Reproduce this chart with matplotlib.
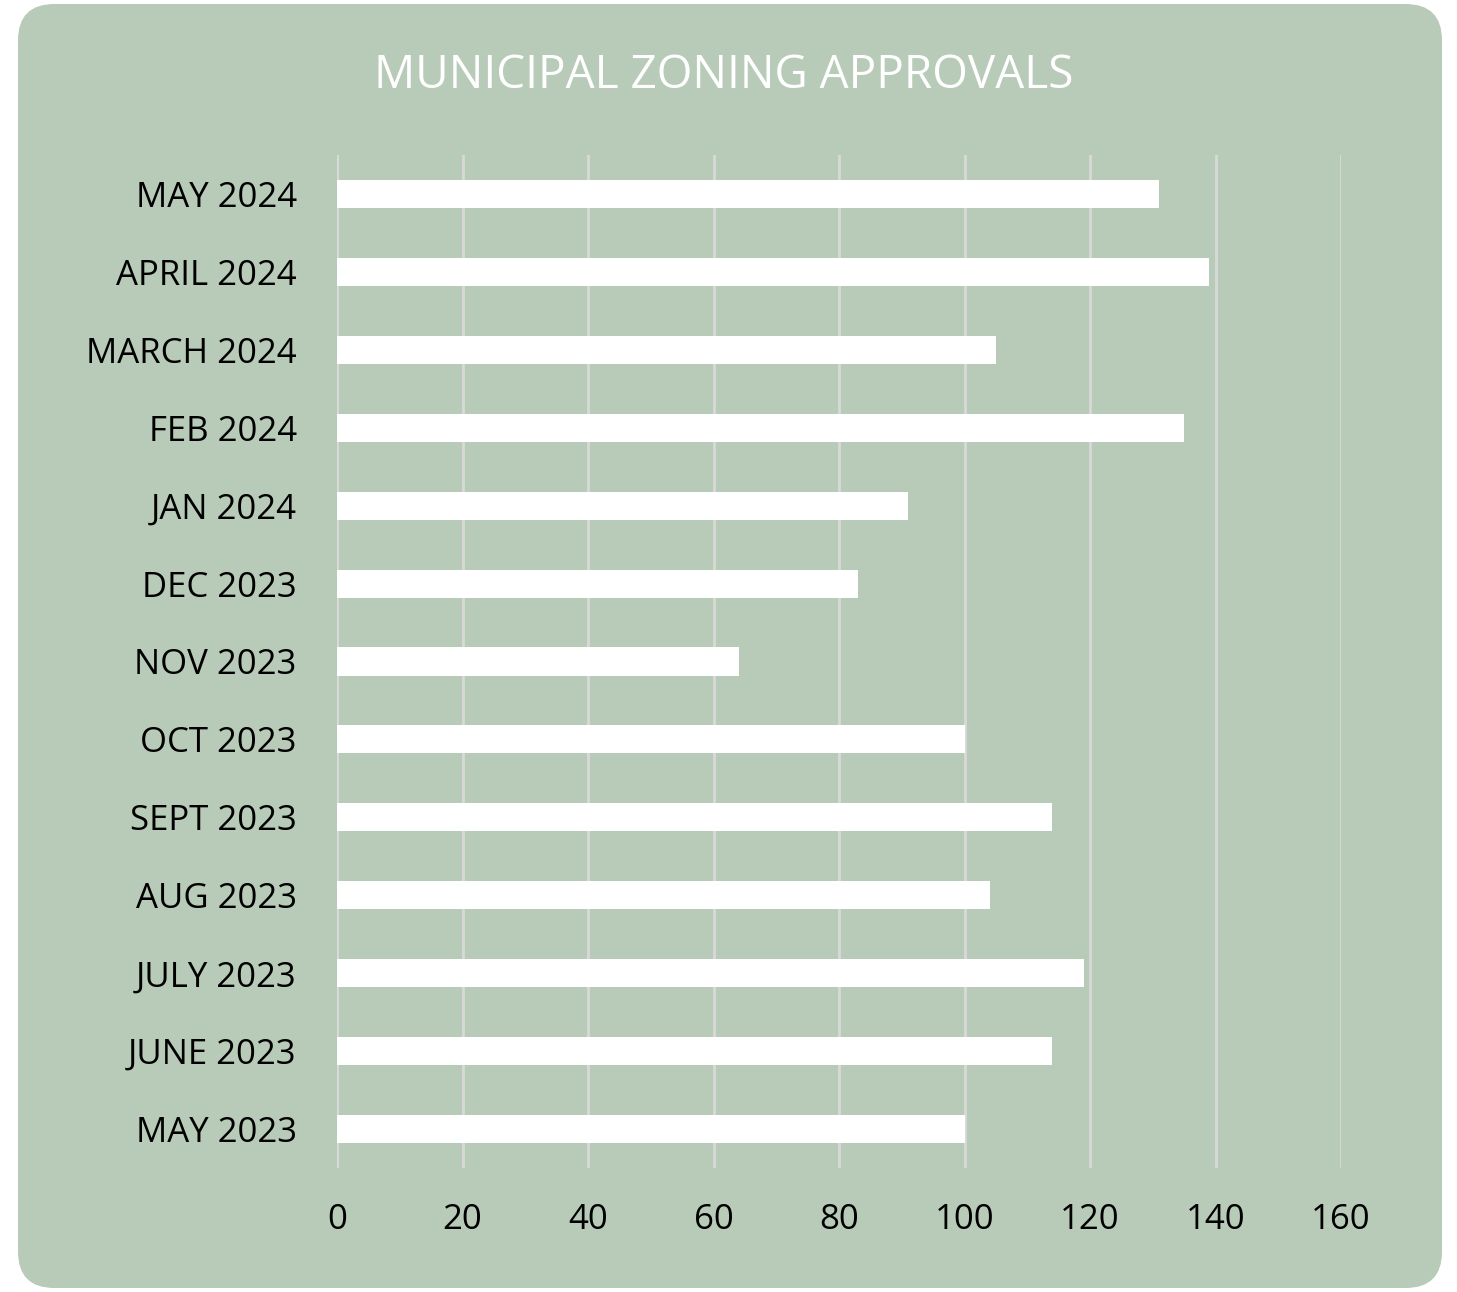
import matplotlib
matplotlib.use("Agg")
import matplotlib.pyplot as plt
from matplotlib.patches import FancyBboxPatch

categories = ["MAY 2023", "JUNE 2023", "JULY 2023", "AUG 2023", "SEPT 2023", "OCT 2023",
              "NOV 2023", "DEC 2023", "JAN 2024", "FEB 2024", "MARCH 2024", "APRIL 2024", "MAY 2024"]
values = [100, 114, 119, 104, 114, 100, 64, 83, 91, 135, 105, 139, 131]
xticks = [0, 20, 40, 60, 80, 100, 120, 140, 160]

W, H = 1457, 1292
fig = plt.figure(figsize=(W / 100, H / 100), dpi=100)
fig.patch.set_facecolor("white")

panel_color = "#B8CAB8"
panel = FancyBboxPatch((18 / W, 4 / H), (1442 - 18) / W, (1288 - 4) / H,
                       boxstyle="round,pad=0,rounding_size=0.025",
                       transform=fig.transFigure, facecolor=panel_color,
                       edgecolor="none", mutation_aspect=W / H, zorder=-5)
fig.patches.append(panel)

ax = fig.add_axes([337 / W, 1 - 1168 / H, (1341 - 337) / W, (1168 - 155) / H])
ax.set_zorder(2)
ax.set_facecolor("none")
ax.barh(range(len(categories)), values, height=0.36, color="white", zorder=3)
ax.set_xlim(0, 160)
ax.set_ylim(-0.5, len(categories) - 0.5)
ax.set_xticks(xticks)
ax.set_xticklabels([str(t) for t in xticks])
ax.set_yticks(range(len(categories)))
ax.set_yticklabels(categories)
for s in ax.spines.values():
    s.set_visible(False)
ax.grid(axis="x", color="#D9D9D9", linewidth=2, zorder=1)
ax.set_axisbelow(True)
ax.axvline(0, color="#D9D9D9", linewidth=2, zorder=2)
ax.tick_params(axis="both", length=0, labelsize=25, labelcolor="black")
ax.tick_params(axis="y", pad=29)
ax.tick_params(axis="x", pad=25)
for lab in ax.get_xticklabels() + ax.get_yticklabels():
    lab.set_fontfamily("Open Sans")

fig.text(724 / W, 1 - 76 / H, "MUNICIPAL ZONING APPROVALS", ha="center", va="center",
         color="white", fontsize=33, fontfamily="Open Sans", fontweight="normal")

fig.savefig("out.png", dpi=100, facecolor="white")
